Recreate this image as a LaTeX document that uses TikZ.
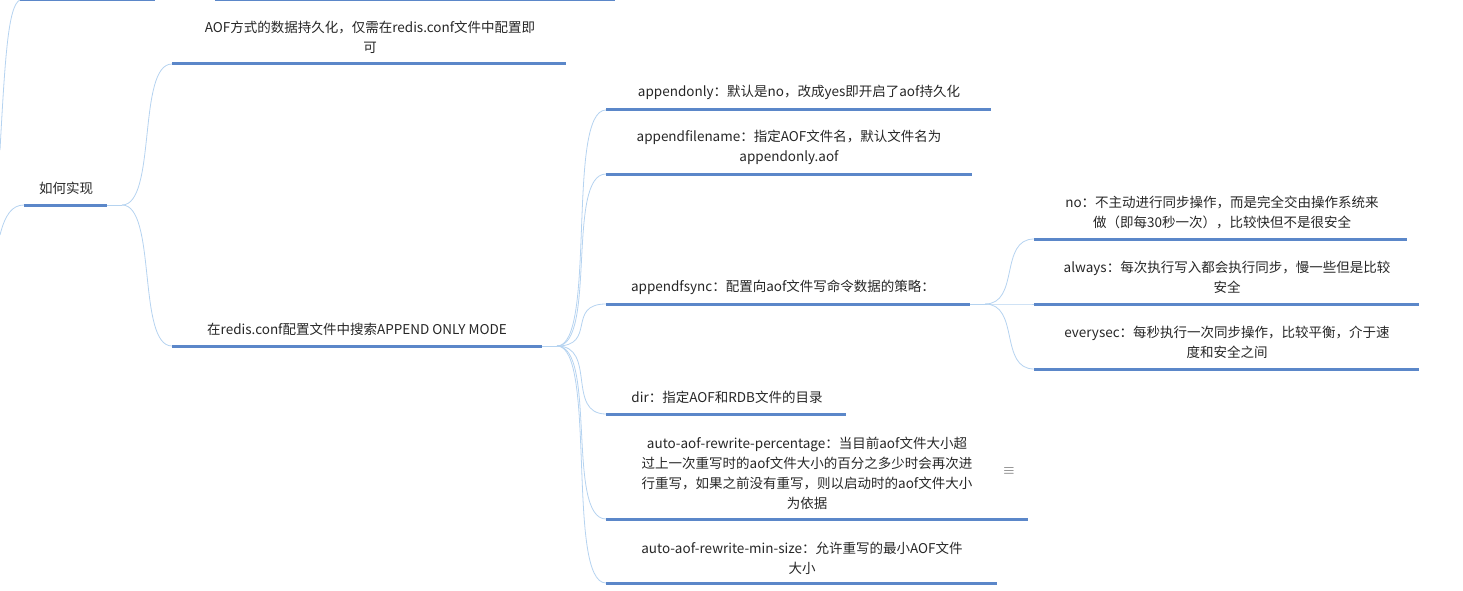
\documentclass[tikz,border=0pt]{standalone}
\usepackage{fontspec}
\setmainfont{Noto Sans CJK SC}
\begin{document}
\begin{tikzpicture}[x=1pt,y=-1pt,
  bar/.style={draw=barblue,line width=3pt},
  link/.style={draw=linkblue,line width=0.8pt},
  lbl/.style={align=center,font=\fontsize{13.5}{20}\selectfont,inner sep=0pt,text=black!85}]
\definecolor{barblue}{HTML}{5B87C9}
\definecolor{linkblue}{HTML}{B5D3F0}
\useasboundingbox (0,0) rectangle (1463,591);
\foreach \n/\a/\b/\y in {t1/20/155/0,t2/215/615/0,root/24/107/205,aof/172/566/64,red/172/542/346,
  ao/606/991/110,af/606/972/174,fs/606/970/304,dir/606/846/414,pc/606/1028/519,ms/606/997/583,
  no/1034/1407/239,al/1034/1419/304,ev/1034/1419/369}{
  \coordinate (\n s) at (\a,\y); \coordinate (\n e) at (\b,\y);
}
% connectors
\coordinate (l1) at (0,150); \coordinate (l2) at (0,235);
\draw[link] (l1) .. controls (5,60) and (8,5) .. (t1s);
\draw[link] (l2) .. controls (5,215) and (12,205) .. (roots);
\coordinate (rj) at (122,205);
\draw[link] (roote) -- (rj);
\foreach \c in {aof,red}{\draw[link] (rj) .. controls +(35,0) and +(-35,0) .. (\c s);}
\coordinate (dj) at (557,346);
\draw[link] (rede) -- (dj);
\foreach \c in {ao,af,fs,dir,pc,ms}{\draw[link] (dj) .. controls +(40,0) and +(-40,0) .. (\c s);}
\coordinate (fj) at (985,304);
\draw[link] (fse) -- (fj);
\foreach \c in {no,al,ev}{\draw[link] (fj) .. controls +(35,0) and +(-35,0) .. (\c s);}
\foreach \n in {t1,t2,root,aof,red,ao,af,fs,dir,pc,ms,no,al,ev}{\draw[bar] (\n s) -- (\n e);}
% texts
\node[lbl] (troot) at (66,188) {如何实现};
\node[lbl] (taof) at (370,37) {AOF方式的数据持久化，仅需在redis.conf文件中配置即\\可};
\node[lbl] (tred) at (357,329) {在redis.conf配置文件中搜索APPEND ONLY MODE};
\node[lbl] (tao) at (799,92) {appendonly：默认是no，改成yes即开启了aof持久化};
\node[lbl] (taf) at (789,147) {appendfilename：指定AOF文件名，默认文件名为\\appendonly.aof};
\node[lbl] (tfs) at (783,287) {appendfsync：配置向aof文件写命令数据的策略：};
\node[lbl] (tdir) at (727,397) {dir：指定AOF和RDB文件的目录};
\node[lbl] (tpc) at (807,473) {auto-aof-rewrite-percentage：当目前aof文件大小超\\过上一次重写时的aof文件大小的百分之多少时会再次进\\行重写，如果之前没有重写，则以启动时的aof文件大小\\为依据};
\node[lbl] (tms) at (802,558) {auto-aof-rewrite-min-size：允许重写的最小AOF文件\\大小};
\node[lbl] (tno) at (1222,212) {no：不主动进行同步操作，而是完全交由操作系统来\\做（即每30秒一次），比较快但不是很安全};
\node[lbl] (tal) at (1227,277) {always：每次执行写入都会执行同步，慢一些但是比较\\安全};
\node[lbl] (tev) at (1227,342) {everysec：每秒执行一次同步操作，比较平衡，介于速\\度和安全之间};
\node[font=\fontsize{14}{14}\selectfont,text=black!70] (icon) at (1009,471) {$\equiv$};
\end{tikzpicture}
\end{document}
